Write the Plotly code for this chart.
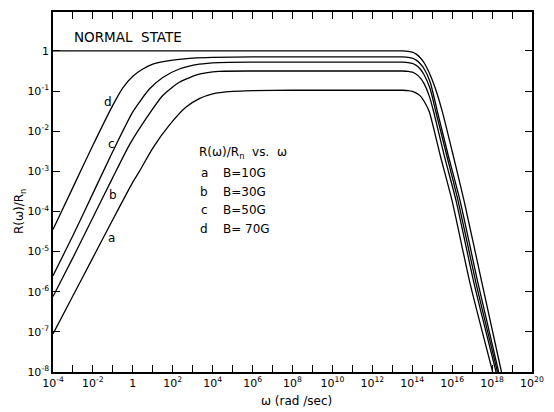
import plotly.graph_objects as go

# ---- data: log10(omega [rad/s]) and log10(R/Rn) ----
normal_logw = [-4, -2, 0, 2, 4, 6, 8, 10, 12, 13, 13.5, 13.8, 14.0, 14.2, 14.4, 14.6, 14.9, 15.2, 15.5, 16.0, 16.6, 17.5, 18.47]
normal_logR = [0, 0, 0, 0, 0, 0, 0, 0, 0, 0, 0, -0.01, -0.03, -0.08, -0.17, -0.3, -0.6, -1.0, -1.5, -2.5, -3.74, -5.8, -8.0]

d_logw = [-4, -3, -2, -1, -0.5, 0, 0.5, 1, 2, 3, 4, 6, 8, 10, 12, 13, 13.5, 13.8, 14.0, 14.2, 14.4, 14.6, 14.9, 15.26, 15.8, 16.4, 17.3, 18.33]
d_logR = [-4.45, -3.4, -2.35, -1.35, -0.92, -0.63, -0.45, -0.33, -0.23, -0.18, -0.16, -0.15, -0.15, -0.15, -0.15, -0.15, -0.15, -0.16, -0.18, -0.23, -0.32, -0.45, -0.78, -1.51, -2.6, -3.74, -5.8, -8.0]

c_logw = [-4, -3, -2, -1, 0, 0.83, 1.5, 2.33, 3.33, 4.3, 6, 8, 10, 12, 13, 13.5, 13.8, 14.0, 14.2, 14.4, 14.6, 14.9, 15.18, 15.7, 16.3, 17.2, 18.27]
c_logR = [-5.6, -4.6, -3.55, -2.5, -1.52, -0.95, -0.66, -0.45, -0.33, -0.29, -0.28, -0.28, -0.28, -0.28, -0.28, -0.28, -0.29, -0.31, -0.36, -0.45, -0.6, -0.95, -1.51, -2.55, -3.74, -5.8, -8.0]

b_logw = [-4, -3, -2, -1, -0.17, 0.67, 1.5, 2.33, 3.33, 4.3, 6, 8, 10, 12, 13, 13.5, 13.8, 14.0, 14.2, 14.4, 14.6, 14.85, 15.07, 15.6, 16.2, 17.1, 18.2]
b_logR = [-6.12, -5.15, -4.15, -3.15, -2.34, -1.68, -1.11, -0.78, -0.58, -0.51, -0.5, -0.5, -0.5, -0.5, -0.5, -0.5, -0.51, -0.53, -0.58, -0.67, -0.82, -1.12, -1.51, -2.6, -3.74, -5.8, -8.0]

a_logw = [-4, -3, -2, -1, 0, 0.33, 1, 1.83, 2.67, 3.33, 4, 5, 6, 8, 10, 12, 13, 13.5, 13.8, 14.0, 14.2, 14.4, 14.6, 14.85, 15.4, 16.0, 16.9, 18.03]
a_logR = [-7.05, -6.1, -5.15, -4.2, -3.27, -3.0, -2.42, -1.85, -1.40, -1.19, -1.07, -1.01, -0.99, -0.98, -0.98, -0.98, -0.98, -0.98, -0.99, -1.01, -1.05, -1.12, -1.26, -1.51, -2.6, -3.74, -5.8, -8.0]

x_tick_exps = list(range(-4, 21))
y_tick_exps = list(range(-8, 1))

curve_labels = ["a", "b", "c", "d"]
legend_title = "R(ω)/R<sub>n</sub>  vs.  ω"
legend_fields = ["B=10G", "B=30G", "B=50G", "B= 70G"]

FONT = "DejaVu Sans"


def tick_text(k):
    if k == 0:
        return "1"
    return "10<sup>%d</sup>" % k


fig = go.Figure()
for lw, lr in [(normal_logw, normal_logR), (d_logw, d_logR), (c_logw, c_logR),
               (b_logw, b_logR), (a_logw, a_logR)]:
    fig.add_trace(go.Scatter(
        x=[10.0 ** v for v in lw], y=[10.0 ** v for v in lr], mode="lines",
        line=dict(color="black", width=1.3, shape="spline", smoothing=0.6),
        hoverinfo="skip"))

ax_common = dict(type="log", showgrid=False, zeroline=False, showline=True,
                 linecolor="black", linewidth=1.5, mirror="ticks", ticks="inside",
                 ticklen=7, tickwidth=1.2, tickcolor="black",
                 tickfont=dict(family=FONT, size=11, color="black"))

fig.update_xaxes(range=[-4, 20], tickvals=[10.0 ** k for k in x_tick_exps],
                 ticktext=[tick_text(k) if k % 2 == 0 else "" for k in x_tick_exps],
                 **ax_common)
fig.update_yaxes(range=[-8, 0.97], tickvals=[10.0 ** k for k in y_tick_exps],
                 ticktext=[tick_text(k) for k in y_tick_exps], **ax_common)

W, H = 554, 412
L, R, T, B = 53, 20, 10, 40
pw, ph = W - L - R, H - T - B


def px(x):
    return (x - L) / pw


def py(y):
    return (H - B - y) / ph


ann = []
ann.append(dict(text="NORMAL  STATE", x=px(72), y=py(35), xanchor="left", yanchor="middle",
                font=dict(family=FONT, size=13.5, color="black")))
label_pos = [(111.5, 237), (113, 194), (112, 143), (108, 101)]
for lab, (lx, ly) in zip(curve_labels, label_pos):
    ann.append(dict(text=lab, x=px(lx), y=py(ly), xanchor="center", yanchor="middle",
                    font=dict(family=FONT, size=12, color="black")))
ann.append(dict(text=legend_title, x=px(198), y=py(152), xanchor="left", yanchor="middle",
                font=dict(family=FONT, size=12, color="black")))
for i, (lab, fld) in enumerate(zip(curve_labels, legend_fields)):
    yy = 172 + i * 18.7
    ann.append(dict(text=lab, x=px(205), y=py(yy), xanchor="center", yanchor="middle",
                    font=dict(family=FONT, size=12, color="black")))
    ann.append(dict(text=fld, x=px(222), y=py(yy), xanchor="left", yanchor="middle",
                    font=dict(family=FONT, size=12, color="black")))
ann.append(dict(text="ω (rad /sec)", x=px(298), y=py(401), xanchor="center", yanchor="middle",
                font=dict(family=FONT, size=12, color="black")))
ann.append(dict(text="R(ω)/R<sub>n</sub>", x=px(20), y=py(211), xanchor="center", yanchor="middle",
                textangle=-90, font=dict(family=FONT, size=12, color="black")))
for a in ann:
    a.update(xref="paper", yref="paper", showarrow=False)

fig.update_layout(width=W, height=H, margin=dict(l=L, r=R, t=T, b=B),
                  plot_bgcolor="white", paper_bgcolor="white", showlegend=False,
                  annotations=ann)

fig.write_html("out.html", config={"displayModeBar": False},
               post_script="document.body.style.margin='0';")
